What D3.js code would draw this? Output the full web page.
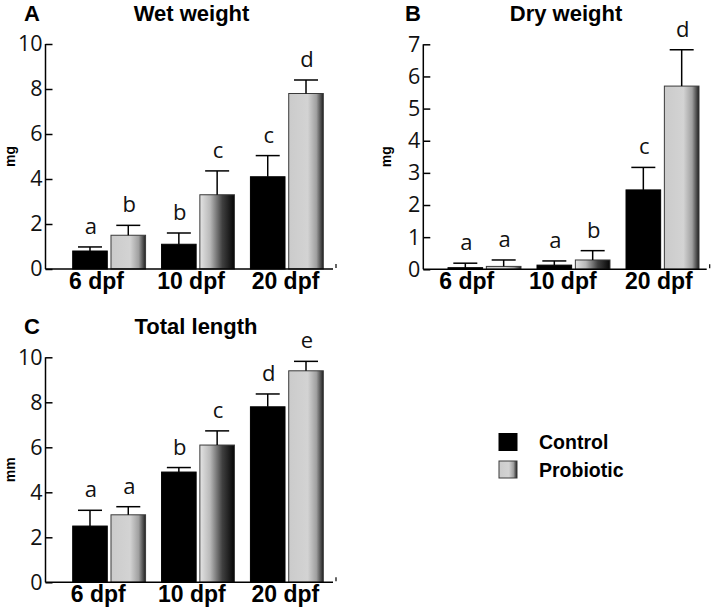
<!DOCTYPE html>
<html>
<head>
<meta charset="utf-8">
<script src="https://cdn.jsdelivr.net/npm/d3@7"></script>
<style>
  html, body { margin: 0; padding: 0; background: #fff; }
  svg { display: block; }
  .tick-label { font-family: "Open Sans", "DejaVu Sans", sans-serif; font-size: 21.5px; fill: #111; }
  .bold { font-family: "Liberation Sans", Arial, sans-serif; font-weight: bold; fill: #000; }
  .letter { font-family: "Open Sans", "DejaVu Sans", sans-serif; font-size: 22px; fill: #111; }
</style>
</head>
<body>
<svg id="chart" width="717" height="615"></svg>
<script>
// ---------------- DATA ----------------
const categories = ["6 dpf", "10 dpf", "20 dpf"];
const seriesNames = ["Control", "Probiotic"];

// A: Wet weight (mg)
const wetControl = [0.8, 1.1, 4.1];
const wetControlSD = [0.18, 0.5, 0.94];
const wetProbiotic = [1.5, 3.3, 7.8];
const wetProbioticSD = [0.44, 1.06, 0.6];
const wetControlLetters = ["a", "b", "c"];
const wetProbioticLetters = ["b", "c", "d"];
const wetTicks = [0, 2, 4, 6, 8, 10];

// B: Dry weight (mg)
const dryControl = [0.05, 0.13, 2.47];
const dryControlSD = [0.14, 0.13, 0.7];
const dryProbiotic = [0.09, 0.29, 5.7];
const dryProbioticSD = [0.2, 0.29, 1.13];
const dryControlLetters = ["a", "a", "c"];
const dryProbioticLetters = ["a", "b", "d"];
const dryTicks = [0, 1, 2, 3, 4, 5, 6, 7];

// C: Total length (mm)
const lenControl = [2.5, 4.9, 7.8];
const lenControlSD = [0.7, 0.2, 0.57];
const lenProbiotic = [3.0, 6.1, 9.4];
const lenProbioticSD = [0.36, 0.63, 0.42];
const lenControlLetters = ["a", "b", "d"];
const lenProbioticLetters = ["a", "c", "e"];
const lenTicks = [0, 2, 4, 6, 8, 10];

// ---------------- LAYOUT ----------------
const svg = d3.select("#chart");
const defs = svg.append("defs");

function makeGrad(id, stops) {
  const g = defs.append("linearGradient").attr("id", id)
    .attr("x1", "0%").attr("x2", "100%").attr("y1", "0%").attr("y2", "0%");
  stops.forEach(s => g.append("stop").attr("offset", s[0]).attr("stop-color", s[1]));
}
makeGrad("gradA", [["0%", "#cbcbcb"], ["55%", "#d3d3d3"], ["80%", "#a0a0a0"], ["100%", "#202020"]]);
makeGrad("gradB", [["0%", "#e4e4e4"], ["30%", "#b8b8b8"], ["65%", "#404040"], ["100%", "#050505"]]);

const panels = [
  { tag: "A", title: "Wet weight", unit: "mg", ticks: wetTicks, max: 10,
    control: wetControl, controlSD: wetControlSD, probiotic: wetProbiotic, probioticSD: wetProbioticSD,
    cL: wetControlLetters, pL: wetProbioticLetters,
    x0: 45.5, x1: 333, yBase: 269, yTop: 44, barStart: 27.2, barEnd: 277.8, lab0: 51, lab1: 240,
    tagX: 24, titleX: 191.5, titleY: 20.5, unitX: 15 },
  { tag: "B", title: "Dry weight", unit: "mg", ticks: dryTicks, max: 7,
    control: dryControl, controlSD: dryControlSD, probiotic: dryProbiotic, probioticSD: dryProbioticSD,
    cL: dryControlLetters, pL: dryProbioticLetters,
    x0: 423.3, x1: 706.7, yBase: 269.3, yTop: 44.3, barStart: 24.7, barEnd: 275.7, lab0: 43.4, lab1: 235.5,
    tagX: 405, titleX: 566, titleY: 20.5, unitX: 391 },
  { tag: "C", title: "Total length", unit: "mm", ticks: lenTicks, max: 10,
    control: lenControl, controlSD: lenControlSD, probiotic: lenProbiotic, probioticSD: lenProbioticSD,
    cL: lenControlLetters, pL: lenProbioticLetters,
    x0: 45.5, x1: 333, yBase: 582.3, yTop: 357.3, barStart: 27.2, barEnd: 277.8, lab0: 52.8, lab1: 239.8,
    tagX: 24, titleX: 196, titleY: 334, unitX: 15 }
];

panels.forEach(p => {
  const g = svg.append("g");
  const y = d3.scaleLinear().domain([0, p.max]).range([p.yBase, p.yTop]);
  const x = d3.scaleBand().domain(categories).range([p.x0 + p.barStart, p.x0 + p.barEnd])
    .paddingInner(0.18).paddingOuter(0);
  const xs = d3.scaleBand().domain(seriesNames).range([0, x.bandwidth()]).paddingInner(0.097);
  const xl = d3.scalePoint().domain(categories).range([p.x0 + p.lab0, p.x0 + p.lab1]);

  // Title + tag
  g.append("text").attr("class", "bold").attr("x", p.tagX).attr("y", p.titleY)
    .attr("font-size", 22).text(p.tag);
  g.append("text").attr("class", "bold").attr("x", p.titleX).attr("y", p.titleY)
    .attr("text-anchor", "middle").attr("font-size", 22).text(p.title);

  // Unit label
  g.append("text").attr("class", "bold").attr("font-size", 14)
    .attr("transform", `translate(${p.unitX},${(p.yBase + p.yTop) / 2}) rotate(-90)`)
    .attr("text-anchor", "middle").text(p.unit);

  // Y axis
  const yAxis = d3.axisLeft(y).tickValues(p.ticks).tickSize(-7).tickPadding(3).tickFormat(d3.format("d"));
  const ya = g.append("g").attr("transform", `translate(${p.x0},0)`).call(yAxis);
  ya.select(".domain").attr("stroke", "#000").attr("stroke-width", 1.5).attr("d", `M0,${p.yBase}V${p.yTop}`);
  ya.selectAll(".tick line").attr("stroke", "#000").attr("stroke-width", 1.5);
  ya.selectAll(".tick text").attr("class", "tick-label").attr("font-size", null).attr("font-family", null)
    .attr("x", -3);

  // Bars
  const rows = [];
  categories.forEach((c, i) => {
    rows.push({ cat: c, s: "Control", v: p.control[i], sd: p.controlSD[i], l: p.cL[i], i });
    rows.push({ cat: c, s: "Probiotic", v: p.probiotic[i], sd: p.probioticSD[i], l: p.pL[i], i });
  });

  g.selectAll("rect.bar").data(rows).enter().append("rect")
    .attr("class", "bar")
    .attr("x", d => x(d.cat) + xs(d.s))
    .attr("width", xs.bandwidth())
    .attr("y", d => y(d.v))
    .attr("height", d => y(0) - y(d.v))
    .attr("fill", d => d.s === "Control" ? "#000" : (d.i === 1 ? "url(#gradB)" : "url(#gradA)"))
    .attr("stroke", d => d.s === "Control" ? "#000" : "#3a3a3a")
    .attr("stroke-width", 1);

  // Error bars
  const eb = g.selectAll("g.err").data(rows).enter().append("g").attr("class", "err");
  eb.append("line")
    .attr("x1", d => x(d.cat) + xs(d.s) + xs.bandwidth() / 2)
    .attr("x2", d => x(d.cat) + xs(d.s) + xs.bandwidth() / 2)
    .attr("y1", d => y(d.v)).attr("y2", d => y(d.v + d.sd))
    .attr("stroke", "#000").attr("stroke-width", 1.5);
  eb.append("line")
    .attr("x1", d => x(d.cat) + xs(d.s) + xs.bandwidth() / 2 - 12)
    .attr("x2", d => x(d.cat) + xs(d.s) + xs.bandwidth() / 2 + 12)
    .attr("y1", d => y(d.v + d.sd)).attr("y2", d => y(d.v + d.sd))
    .attr("stroke", "#000").attr("stroke-width", 1.5);

  // Significance letters
  g.selectAll("text.letter").data(rows).enter().append("text")
    .attr("class", "letter")
    .attr("x", d => x(d.cat) + xs(d.s) + xs.bandwidth() / 2 + 1)
    .attr("y", d => y(d.v + d.sd) - 13)
    .attr("text-anchor", "middle")
    .text(d => d.l);

  // X axis line
  g.append("line").attr("x1", p.x0).attr("x2", p.x1).attr("y1", p.yBase).attr("y2", p.yBase)
    .attr("stroke", "#000").attr("stroke-width", 1.5);
  g.append("line").attr("x1", p.x1 + 3).attr("x2", p.x1 + 3).attr("y1", p.yBase - 5).attr("y2", p.yBase - 1)
    .attr("stroke", "#000").attr("stroke-width", 1.2);

  // X labels
  g.selectAll("text.xlab").data(categories).enter().append("text")
    .attr("class", "bold xlab").attr("font-size", 23)
    .attr("x", d => xl(d)).attr("y", p.yBase + 19.5)
    .attr("text-anchor", "middle").text(d => d);
});

// Legend
const legend = svg.append("g");
const legY = d3.scalePoint().domain(seriesNames).range([433.5, 461]);
legend.selectAll("rect").data(seriesNames).enter().append("rect")
  .attr("x", 499).attr("y", d => legY(d)).attr("width", 18).attr("height", 17)
  .attr("fill", d => d === "Control" ? "#000" : "url(#gradA)")
  .attr("stroke", d => d === "Control" ? "#000" : "#3a3a3a").attr("stroke-width", 1);
legend.selectAll("text").data(seriesNames).enter().append("text")
  .attr("class", "bold").attr("font-size", 19.5)
  .attr("x", 539).attr("y", d => legY(d) + 15.5).text(d => d);
</script>
</body>
</html>
